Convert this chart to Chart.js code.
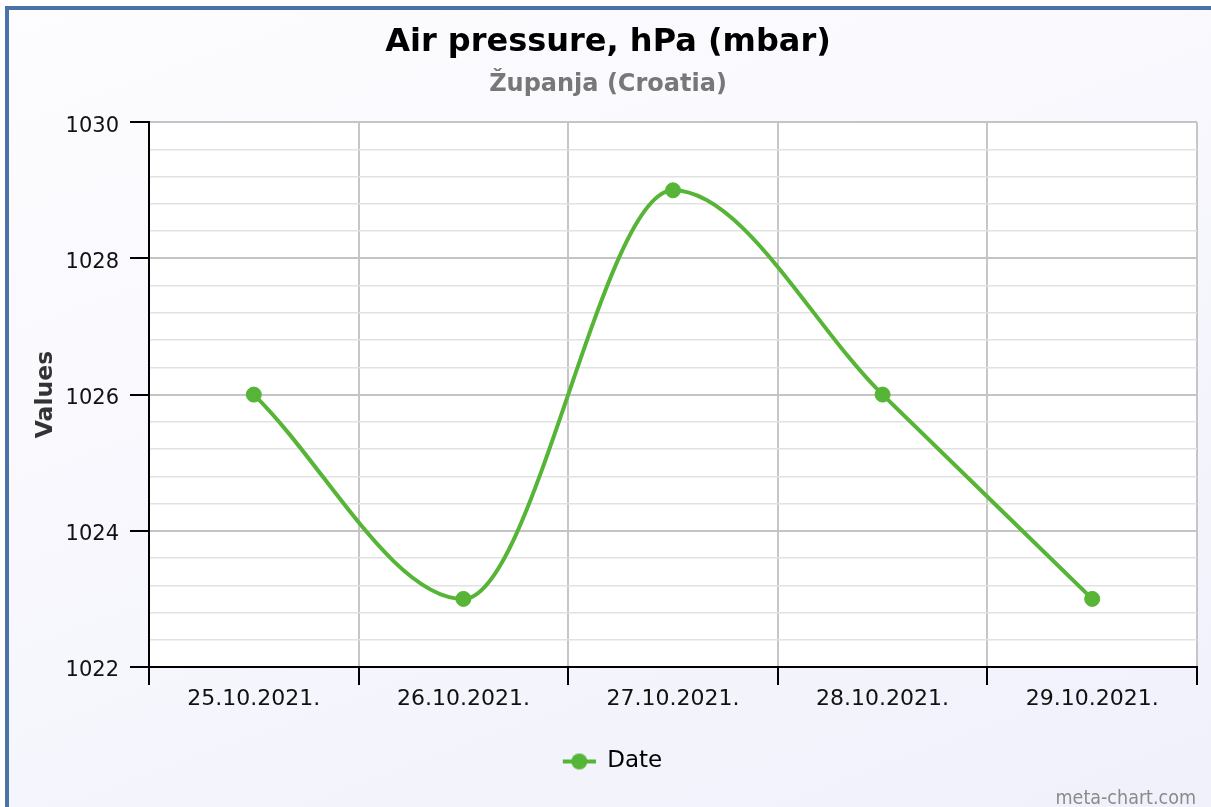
<!DOCTYPE html>
<html>
<head>
<meta charset="utf-8">
<script src="https://cdn.jsdelivr.net/npm/chart.js@4"></script>
<style>
  html, body { margin: 0; padding: 0; width: 1211px; height: 807px; overflow: hidden; }
  #frame {
    position: absolute; left: 5px; top: 6px; width: 1300px; height: 900px;
    border: 4px solid #4a72a6;
    background: linear-gradient(160deg, #fdfdff 0%, #f6f6fd 50%, #efeffb 100%);
  }
  #chart { position: absolute; left: 0; top: 0; }
  #credit {
    position: absolute; right: 15px; bottom: -2px;
    font-family: "DejaVu Sans Condensed", "DejaVu Sans", sans-serif;
    font-size: 19.5px; color: #8a8a8a;
  }
</style>
</head>
<body>
<div id="frame"></div>
<canvas id="chart" width="1211" height="807"></canvas>
<div id="credit">meta-chart.com</div>
<script>
const dates = ['25.10.2021.', '26.10.2021.', '27.10.2021.', '28.10.2021.', '29.10.2021.'];
const pressure = [1026, 1023, 1029, 1026, 1023];
const yMin = 1022;
const yMax = 1030;
const yMajorStep = 2;
const yMinorStep = 0.4;

const green = '#56b536';

function isMajor(v) {
    return Math.abs(v / yMajorStep - Math.round(v / yMajorStep)) < 1e-6;
}

// legend marker: short line with a dot (transparent space on the left to nudge it right)
const markerPad = 9;
const marker = document.createElement('canvas');
marker.width = markerPad + 33;
marker.height = 18;
const mctx = marker.getContext('2d');
mctx.strokeStyle = green;
mctx.lineWidth = 4;
mctx.beginPath();
mctx.moveTo(markerPad, 9);
mctx.lineTo(markerPad + 33, 9);
mctx.stroke();
mctx.fillStyle = green;
mctx.beginPath();
mctx.arc(markerPad + 16.5, 9, 8, 0, Math.PI * 2);
mctx.fill();

const plotBackground = {
    id: 'plotBackground',
    beforeDraw(chart) {
        const a = chart.chartArea;
        const c = chart.ctx;
        c.save();
        c.fillStyle = '#ffffff';
        c.fillRect(a.left, a.top, a.right - a.left, a.bottom - a.top);
        c.restore();
    }
};

const ctx = document.getElementById('chart').getContext('2d');
const chart = new Chart(ctx, {
    type: 'line',
    data: {
        labels: dates,
        datasets: [{
            label: 'Date',
            data: pressure,
            borderColor: green,
            backgroundColor: green,
            borderWidth: 4,
            pointRadius: 7.5,
            pointBackgroundColor: green,
            pointBorderColor: green,
            pointBorderWidth: 1,
            cubicInterpolationMode: 'monotone',
            pointStyle: 'circle'
        }]
    },
    options: {
        responsive: false,
        animation: false,
        layout: {
            padding: { left: 19, right: 14, top: 0, bottom: 24 }
        },
        scales: {
            x: {
                offset: true,
                grid: {
                    offset: true,
                    color: '#c6c6c6',
                    lineWidth: 2,
                    tickColor: '#000',
                    tickLength: 18,
                    tickWidth: 2
                },
                border: { color: '#000', width: 2 },
                ticks: {
                    color: '#111',
                    padding: 1,
                    font: { family: 'DejaVu Sans', size: 22 }
                },
                afterFit(scale) { scale.height = 73; }
            },
            y: {
                min: yMin,
                max: yMax,
                grid: {
                    color: (c) => isMajor(c.tick.value) ? '#c4c4c4' : '#e2e2e2',
                    lineWidth: (c) => isMajor(c.tick.value) ? 2 : 1.5,
                    tickColor: (c) => isMajor(c.tick.value) ? '#000' : 'rgba(0,0,0,0)',
                    tickLength: 19,
                    tickWidth: 2
                },
                border: { color: '#000', width: 2 },
                ticks: {
                    stepSize: yMinorStep,
                    autoSkip: false,
                    maxTicksLimit: 100,
                    padding: 11,
                    labelOffset: 4,
                    color: '#111',
                    font: { family: 'DejaVu Sans', size: 21 },
                    callback: (v) => isMajor(v) ? Math.round(v) : ''
                },
                title: {
                    display: true,
                    text: 'Values',
                    color: '#333',
                    padding: { top: 13, bottom: 0 },
                    font: { family: 'DejaVu Sans', size: 23.5, weight: 'bold' }
                },
                afterFit(scale) { scale.width = 130; }
            }
        },
        plugins: {
            title: {
                display: true,
                text: 'Air pressure, hPa (mbar)',
                color: '#000',
                padding: { top: 23, bottom: 0 },
                font: { family: 'DejaVu Sans', size: 32, weight: 'bold' }
            },
            subtitle: {
                display: true,
                text: 'Županja (Croatia)',
                color: '#777',
                padding: { top: 9, bottom: 23 },
                font: { family: 'DejaVu Sans', size: 24, weight: 'bold' }
            },
            legend: {
                position: 'bottom',
                labels: {
                    usePointStyle: true,
                    pointStyleWidth: markerPad + 33,
                    color: '#222',
                    padding: 10,
                    font: { family: 'DejaVu Sans', size: 23 },
                    generateLabels: (c) => c.data.datasets.map((ds, i) => ({
                        text: ds.label,
                        pointStyle: marker,
                        fillStyle: green,
                        strokeStyle: green,
                        lineWidth: 0,
                        hidden: false,
                        datasetIndex: i
                    }))
                }
            },
            tooltip: { enabled: false }
        }
    },
    plugins: [plotBackground]
});
</script>
</body>
</html>
